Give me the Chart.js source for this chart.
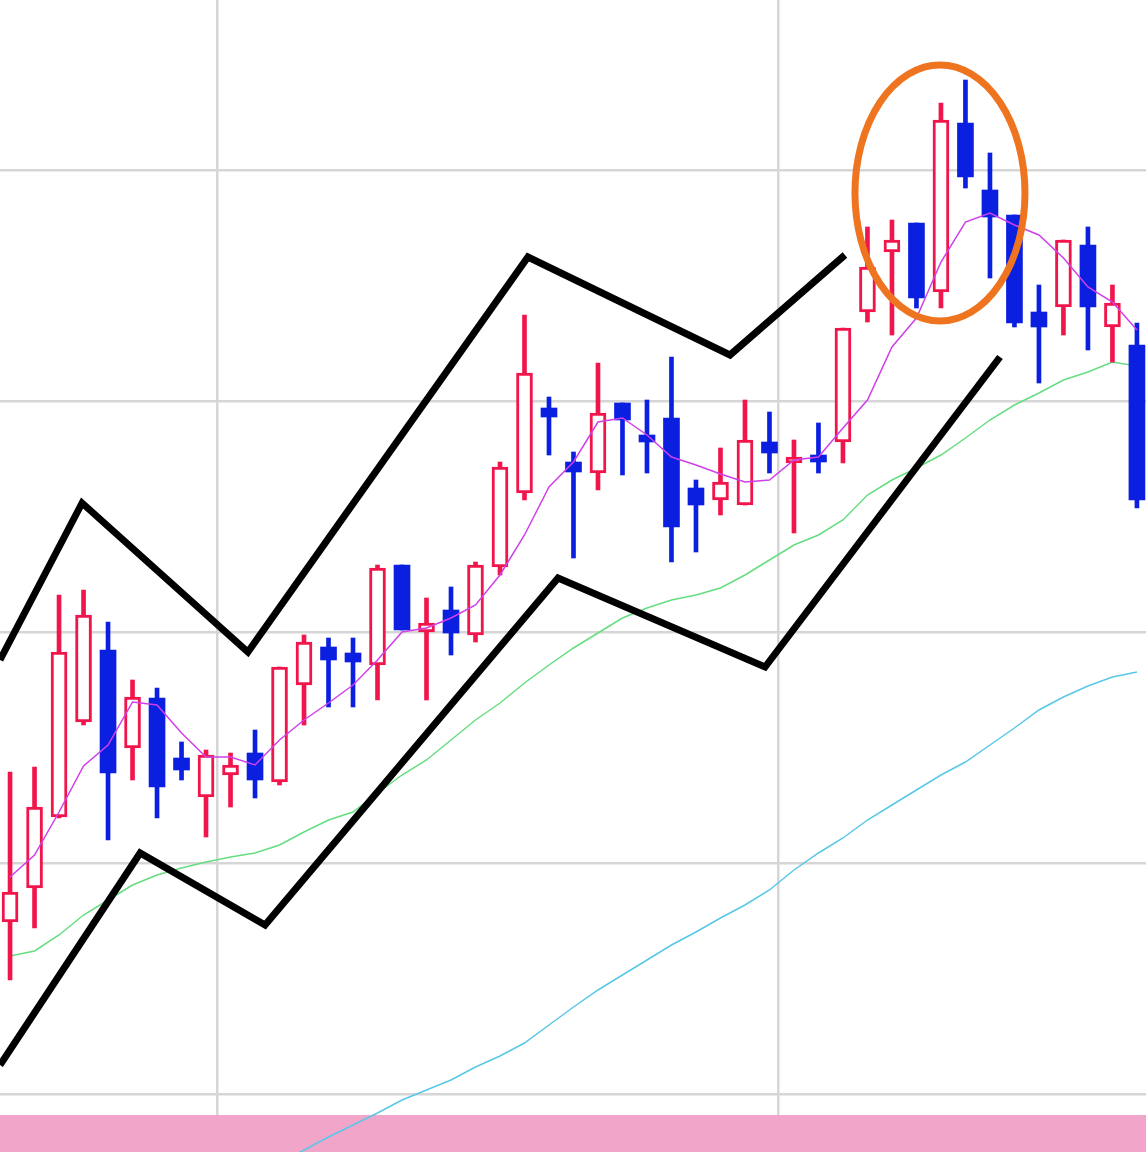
<!DOCTYPE html>
<html>
<head>
<meta charset="utf-8">
<script src="https://cdn.jsdelivr.net/npm/chart.js@4/dist/chart.umd.min.js"></script>
<style>
  html, body { margin: 0; padding: 0; background: #fff; }
  #wrap { width: 1146px; height: 1152px; }
</style>
</head>
<body>
<div id="wrap"><canvas id="chart"></canvas></div>
<script>
// Candles: open, high, low, close (one entry per session)
const opens  = [230,264,335,430,502,404,454,394,355,377,399,370,467,505,499,487,587,520,542,517,585,659,744,690,679,749,717,734,664,652,647,710,689,697,710,840,900,929,860,1029,962,937,840,845,907,825,807];
const highs  = [380,385,557,562,530,472,464,410,402,399,422,485,517,514,514,587,587,554,565,590,690,837,755,700,789,749,752,795,672,704,752,740,712,729,824,925,932,929,1049,1072,999,937,867,912,925,867,829];
const lows   = [172,224,334,427,312,372,334,372,315,345,354,367,427,445,445,452,522,452,497,510,577,652,697,594,662,677,679,590,600,637,647,679,619,679,689,830,817,844,844,964,874,825,769,817,802,790,644];
const closes = [260,345,500,537,379,455,365,382,397,387,372,485,510,492,490,584,522,529,519,587,685,779,735,680,739,732,710,625,647,670,712,699,695,690,824,885,912,854,1032,975,935,829,825,912,845,849,652];

// Moving averages
const maShort = [275,297,340,386,407,450,447,419,395,395,387,412,432,449,467,492,520,524,534,547,577,617,665,690,730,734,717,695,687,678,670,672,692,695,724,752,805,834,890,930,939,927,917,894,865,850,822];
const maMid   = [196,201,217,237,252,267,277,284,290,295,299,307,320,332,340,359,377,392,412,432,449,469,487,504,519,534,544,552,557,564,577,592,607,617,632,657,672,684,697,714,732,747,759,772,780,790,786];
const maLong  = [null,null,null,null,null,null,null,null,null,null,null,-11,2,15,27,39,52,62,72,85,96,109,127,145,162,177,192,207,220,234,247,262,282,299,314,332,347,362,377,390,407,424,442,455,466,475,480];

// Grid positions
const priceGrid = [58,289,520,751,982];
const timeGrid = [8.45,31.35];

// Hand-drawn annotations (in chart units)
const upperZigX = [-0.41,2.94,9.71,21.14,29.39,34.08];
const upperZigY = [492,649,500,895,797,897];
const lowerZigX = [-0.41,5.31,10.41,22.37,30.82,40.41];
const lowerZigY = [87,299,227,574,485,795];
const circleMark = { x: 37.96, y: 959, rx: 3.47, ry: 128 };

const RED = '#f0164c';
const BLUE = '#0a1fe0';

const idx = opens.map((_, i) => i);
const isUp = idx.map(i => closes[i] >= opens[i]);
const toPts = (xs, ys) => xs.map((x, i) => ({ x: x, y: ys[i] }));

const bandPlugin = {
  id: 'band',
  beforeDatasetsDraw(chart) {
    const { ctx, chartArea, scales } = chart;
    const top = scales.y.getPixelForValue(37);
    ctx.save();
    ctx.fillStyle = '#f1a6c9';
    ctx.fillRect(chartArea.left, top, chartArea.right - chartArea.left, chartArea.bottom - top);
    ctx.restore();
  },
  afterDatasetsDraw(chart) {
    const { ctx, scales } = chart;
    const cx = scales.x.getPixelForValue(circleMark.x);
    const cy = scales.y.getPixelForValue(circleMark.y);
    const rx = scales.x.getPixelForValue(circleMark.x + circleMark.rx) - cx;
    const ry = cy - scales.y.getPixelForValue(circleMark.y + circleMark.ry);
    ctx.save();
    ctx.strokeStyle = '#ee7420';
    ctx.lineWidth = 7;
    ctx.beginPath();
    ctx.ellipse(cx, cy, rx, ry, 0, 0, Math.PI * 2);
    ctx.stroke();
    ctx.restore();
  }
};

const lineDs = (data, color, width, order) => ({
  type: 'line',
  data: data,
  borderColor: color,
  borderWidth: width,
  pointRadius: 0,
  tension: 0,
  order: order
});

new Chart(document.getElementById('chart'), {
  type: 'line',
  data: {
    datasets: [
      lineDs(toPts(idx, maLong), '#58c8e6', 1.5, 20),
      lineDs(toPts(idx, maMid), '#66dd80', 1.5, 20),
      {
        type: 'bar',
        data: idx.map(i => ({ x: i, y: [lows[i], highs[i]] })),
        backgroundColor: idx.map(i => isUp[i] ? RED : BLUE),
        barThickness: 4,
        grouped: false,
        order: 6
      },
      {
        type: 'bar',
        data: idx.map(i => ({ x: i, y: [opens[i], closes[i]] })),
        backgroundColor: idx.map(i => isUp[i] ? '#ffffff' : BLUE),
        borderColor: idx.map(i => isUp[i] ? RED : BLUE),
        borderWidth: idx.map(i => isUp[i] ? 3 : 0),
        borderSkipped: false,
        barThickness: 16,
        minBarLength: 3,
        grouped: false,
        order: 5
      },
      lineDs(toPts(idx, maShort), '#d040ea', 1.5, 3),
      lineDs(toPts(upperZigX, upperZigY), '#000000', 7, 1),
      lineDs(toPts(lowerZigX, lowerZigY), '#000000', 7, 1)
    ]
  },
  options: {
    responsive: true,
    maintainAspectRatio: false,
    animation: false,
    layout: { padding: 0 },
    scales: {
      x: {
        type: 'linear',
        min: -0.41,
        max: 46.37,
        offset: false,
        bounds: 'data',
        afterBuildTicks: s => { s.ticks = timeGrid.map(v => ({ value: v })); },
        ticks: { display: false },
        border: { display: false },
        grid: { color: '#d6d6d6', lineWidth: 2.5, drawTicks: false, offset: false }
      },
      y: {
        min: 0,
        max: 1152,
        afterBuildTicks: s => { s.ticks = priceGrid.map(v => ({ value: v })); },
        ticks: { display: false },
        border: { display: false },
        grid: { color: '#d6d6d6', lineWidth: 2.5, drawTicks: false }
      }
    },
    plugins: {
      legend: { display: false },
      tooltip: { enabled: false }
    }
  },
  plugins: [bandPlugin]
});
</script>
</body>
</html>
